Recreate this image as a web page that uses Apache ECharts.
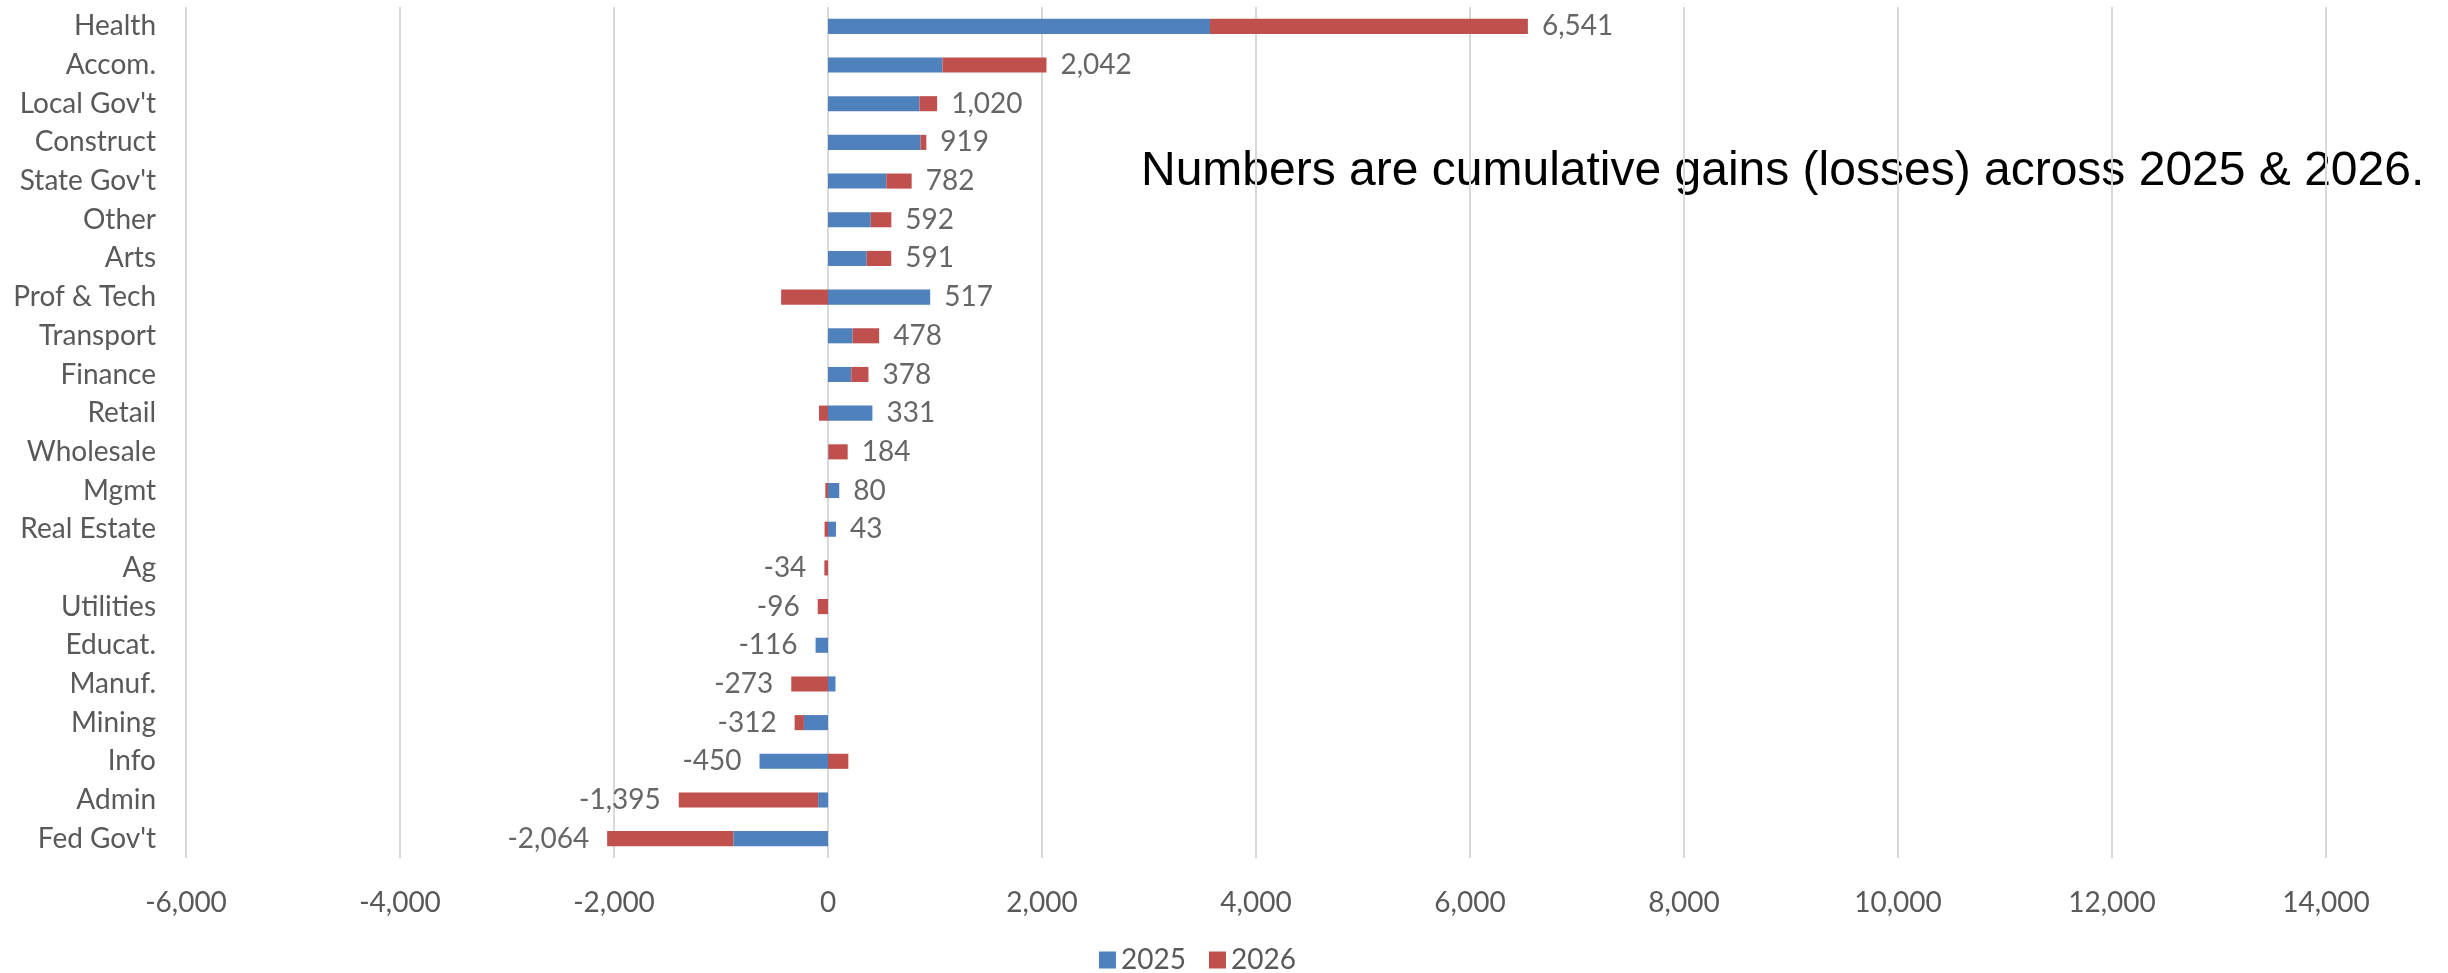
<!DOCTYPE html>
<html>
<head>
<meta charset="utf-8">
<title>Job gains and losses by industry, 2025 & 2026</title>
<script src="https://cdn.jsdelivr.net/npm/echarts@6/dist/echarts.min.js"></script>
<style>
  html, body { margin: 0; padding: 0; background: #ffffff; }
  #chart { width: 2448px; height: 973px; }
</style>
</head>
<body>
<div id="chart"></div>
<script>
// Industries, top to bottom
const categories = ['Health', 'Accom.', "Local Gov't", 'Construct', "State Gov't", 'Other', 'Arts',
  'Prof & Tech', 'Transport', 'Finance', 'Retail', 'Wholesale', 'Mgmt', 'Real Estate', 'Ag',
  'Utilities', 'Educat.', 'Manuf.', 'Mining', 'Info', 'Admin', "Fed Gov't"];

// Job change in each year
const jobs2025 = [3570, 1070, 855, 865, 545, 400, 362, 955, 230, 218, 415, 4, 105, 75, 0, 0, -116, 70, -225, -640, -92, -885];
const jobs2026 = [2971, 972, 165, 54, 237, 192, 229, -438, 248, 160, -84, 180, -25, -32, -34, -96, 0, -343, -87, 190, -1303, -1179];

// Value axis range
const axisMin = -6000;
const axisMax = 14000;
const axisStep = 2000;

const note = 'Numbers are cumulative gains (losses) across 2025 & 2026.';

const fmt = v => Math.round(v).toLocaleString('en-US');

// Cumulative total for each industry, placed at the outer end of its stacked bar
const totals = categories.map((c, i) => jobs2025[i] + jobs2026[i]);
const totalPoints = categories.map((c, i) => {
  const a = jobs2025[i], b = jobs2026[i];
  const pos = Math.max(a, 0) + Math.max(b, 0);
  const neg = Math.min(a, 0) + Math.min(b, 0);
  const t = totals[i];
  return {
    value: [t >= 0 ? pos : neg, i],
    total: t,
    label: { position: t >= 0 ? 'right' : 'left', distance: t >= 0 ? 14 : 18 }
  };
});

const FONT = 'Lato';
const SIZE = 28;
const chart = echarts.init(document.getElementById('chart'), null, { renderer: 'canvas' });

chart.setOption({
  animation: false,
  backgroundColor: '#ffffff',
  textStyle: { fontFamily: FONT },
  grid: { left: 186, right: 122, top: 7, bottom: 115, containLabel: false },
  legend: {
    data: ['2025', '2026'],
    top: 946,
    left: 1099,
    padding: 0,
    icon: 'rect',
    itemWidth: 17,
    itemHeight: 17,
    itemGap: 23,
    textStyle: { fontFamily: FONT, fontSize: SIZE, color: '#595959' }
  },
  xAxis: {
    type: 'value',
    min: axisMin,
    max: axisMax,
    interval: axisStep,
    axisLine: { show: false },
    axisTick: { show: false },
    splitLine: { show: true, lineStyle: { color: '#d9d9d9', width: 2 } },
    axisLabel: {
      margin: 31,
      fontFamily: FONT,
      fontSize: SIZE,
      color: '#595959',
      formatter: v => fmt(v)
    }
  },
  yAxis: {
    type: 'category',
    data: categories,
    inverse: true,
    axisLine: { show: false },
    axisTick: { show: false },
    splitLine: { show: false },
    axisLabel: { margin: 30, fontFamily: FONT, fontSize: SIZE, color: '#595959' }
  },
  series: [
    {
      name: '2025',
      type: 'bar',
      stack: 'jobs',
      barWidth: '39%',
      itemStyle: { color: '#4f81bd' },
      data: jobs2025
    },
    {
      name: '2026',
      type: 'bar',
      stack: 'jobs',
      barWidth: '39%',
      itemStyle: { color: '#c0504d' },
      data: jobs2026
    },
    {
      name: 'Total',
      type: 'scatter',
      symbolSize: 0,
      silent: true,
      data: totalPoints,
      label: {
        show: true,
        fontFamily: FONT,
        fontSize: SIZE,
        color: '#404040',
        formatter: p => fmt(p.data.total)
      }
    }
  ],
  graphic: [
    {
      type: 'text',
      left: 1141,
      top: 148,
      style: {
        text: note,
        font: '48px "Liberation Sans", Arial, sans-serif',
        fill: '#000000'
      }
    }
  ]
});
</script>
</body>
</html>
